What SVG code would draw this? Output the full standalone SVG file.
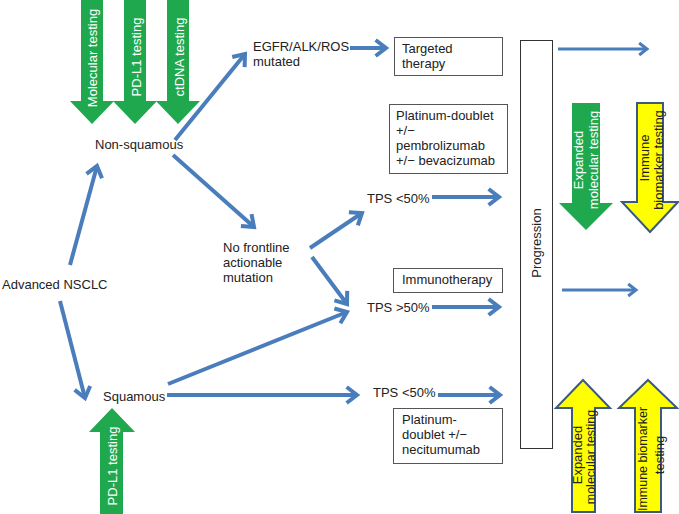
<svg xmlns="http://www.w3.org/2000/svg" width="679" height="514" viewBox="0 0 679 514">
<style>
text{font-family:"Liberation Sans",Arial,sans-serif;font-size:13px;fill:#222}
.wt{fill:#fff}
.sm{font-size:12.5px}
.bx{fill:#fff;stroke:#555;stroke-width:1}
.gr{fill:#1fa84e}
.yl{fill:#ffff00;stroke:#3b5a80;stroke-width:2;stroke-linejoin:miter}
.cn{stroke:#4a7dbb;stroke-width:4;fill:none;marker-end:url(#ah)}
.cn3{stroke:#4a7dbb;stroke-width:3;fill:none;marker-end:url(#ah)}
</style>
<defs>
<marker id="ah" viewBox="-3.5 -2.5 4.5 5" markerWidth="4.5" markerHeight="5" refX="0" refY="0" orient="auto" markerUnits="strokeWidth" overflow="visible">
<path d="M-2.6,-2 L0,0 L-2.6,2" fill="none" stroke="#4a7dbb" stroke-width="1"/>
</marker>
</defs>
<rect width="679" height="514" fill="#fff"/>

<g id="test-molecular">
<polygon class="gr" points="81,0 103,0 103,101 114,101 92,124 70,101 81,101"/>
<text class="wt" transform="translate(97,58) rotate(-90)" text-anchor="middle">Molecular testing</text>
</g>
<g id="test-pdl1-top">
<polygon class="gr" points="124,0 146,0 146,101 157,101 135,124 113,101 124,101"/>
<text class="wt" transform="translate(141,57) rotate(-90)" text-anchor="middle">PD-L1 testing</text>
</g>
<g id="test-ctdna">
<polygon class="gr" points="167,0 189,0 189,101 200,101 178,124 156,101 167,101"/>
<text class="wt" transform="translate(184,57) rotate(-90)" text-anchor="middle">ctDNA testing</text>
</g>
<g id="test-pdl1-bottom">
<polygon class="gr" points="112,408 135,432 123,432 123,514 100,514 100,432 89,432"/>
<text class="wt" transform="translate(117,466) rotate(-90)" text-anchor="middle">PD-L1 testing</text>
</g>

<g id="advanced"><text x="2" y="289">Advanced NSCLC</text></g>
<g id="nonsquamous"><text x="95" y="149">Non-squamous</text></g>
<g id="squamous"><text x="103" y="401">Squamous</text></g>
<g id="egfr"><text x="253" y="51">EGFR/ALK/ROS</text><text x="253" y="66">mutated</text></g>
<g id="nofrontline"><text x="223" y="252">No frontline</text><text x="223" y="267">actionable</text><text x="223" y="282">mutation</text></g>
<g id="tps-top"><text x="367" y="203">TPS &lt;50%</text></g>
<g id="tps-high"><text x="367" y="312">TPS &gt;50%</text></g>
<g id="tps-bottom"><text x="373" y="397">TPS &lt;50%</text></g>

<g id="targeted">
<rect class="bx" x="394.5" y="37.5" width="108" height="38"/>
<text x="402" y="53">Targeted</text><text x="402" y="68">therapy</text>
</g>
<g id="platinum-pembro">
<rect class="bx" x="389.5" y="104.5" width="118" height="69"/>
<text x="396" y="120">Platinum-doublet</text><text x="396" y="135">+/−</text><text x="396" y="150">pembrolizumab</text><text x="396" y="165">+/− bevacizumab</text>
</g>
<g id="immunotherapy">
<rect class="bx" x="393.5" y="268.5" width="109" height="24"/>
<text x="402" y="284">Immunotherapy</text>
</g>
<g id="platinum-neci">
<rect class="bx" x="393.5" y="408.5" width="109" height="55"/>
<text x="402" y="424">Platinum-</text><text x="402" y="439">doublet +/−</text><text x="402" y="454">necitumumab</text>
</g>
<g id="progression">
<rect x="520.5" y="40.5" width="32" height="408" fill="#fff" stroke="#333" stroke-width="1"/>
<text transform="translate(541,243) rotate(-90)" text-anchor="middle">Progression</text>
</g>

<g id="expanded-top">
<polygon class="gr" points="572,103 600,103 600,203 613,203 586,230 559,203 572,203"/>
<text class="wt" transform="translate(583,160) rotate(-90)" text-anchor="middle">Expanded</text>
<text class="wt" transform="translate(598,160) rotate(-90)" text-anchor="middle">molecular testing</text>
</g>
<g id="immune-top">
<polygon class="yl" points="637,103 663,103 663,202 678,202 650,232 622,202 637,202"/>
<text transform="translate(649,158) rotate(-90)" text-anchor="middle">Immune</text>
<text transform="translate(663,160) rotate(-90)" text-anchor="middle">biomarker testing</text>
</g>
<g id="expanded-bottom">
<polygon class="yl" points="583,380 610,408 595,408 595,512 572,512 572,408 556,408"/>
<text transform="translate(582,455) rotate(-90)" text-anchor="middle">Expanded</text>
<text class="sm" transform="translate(595,457) rotate(-90)" text-anchor="middle">molecular testing</text>
</g>
<g id="immune-bottom">
<polygon class="yl" points="648,380 677,408 661,408 661,512 635,512 635,408 619,408"/>
<text class="sm" transform="translate(647,459) rotate(-90)" text-anchor="middle">Immune biomarker</text>
<text transform="translate(664,455) rotate(-90)" text-anchor="middle">testing</text>
</g>

<g id="connectors">
<line class="cn" x1="70" y1="265" x2="97" y2="166"/>
<line class="cn" x1="60" y1="301" x2="85" y2="398"/>
<line class="cn" x1="175" y1="140" x2="245" y2="54"/>
<line class="cn" x1="173" y1="155" x2="254" y2="227"/>
<line class="cn" x1="350" y1="48" x2="386" y2="48"/>
<line class="cn" x1="310" y1="248" x2="362" y2="213"/>
<line class="cn" x1="312" y1="257" x2="347" y2="304"/>
<line class="cn" x1="168" y1="384" x2="347" y2="312"/>
<line class="cn" x1="167" y1="395" x2="357" y2="395"/>
<line class="cn" x1="432" y1="197" x2="499" y2="197"/>
<line class="cn" x1="432" y1="307" x2="499" y2="307"/>
<line class="cn" x1="438" y1="395" x2="500" y2="395"/>
<line class="cn3" x1="558" y1="49" x2="647" y2="49"/>
<line class="cn3" x1="562" y1="290" x2="636" y2="290"/>
</g>
</svg>
